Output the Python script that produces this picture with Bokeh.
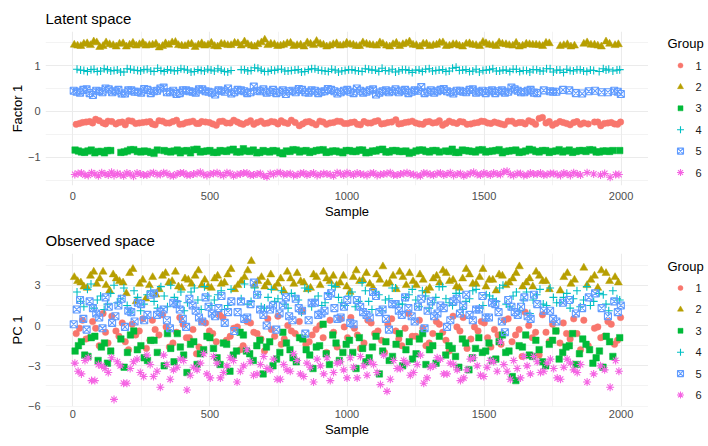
from bokeh.plotting import figure
from bokeh.layouts import column, row
from bokeh.models import (ColumnDataSource, FixedTicker, CustomJSTickFormatter, Range1d)
from bokeh.core.properties import value
from bokeh.embed import file_html
from bokeh.resources import INLINE

FONT = "Liberation Sans"

groups = ["1", "2", "3", "4", "5", "6"]
colors = ["#F8766D", "#B79F00", "#00BA38", "#00BFC4", "#619CFF", "#F564E3"]
markers = ["circle", "triangle", "square", "cross", "square_x", "asterisk"]

x_ticks = [0, 500, 1000, 1500, 2000]
x_minor = [250, 750, 1250, 1750]
latent_ticks = [-1, 0, 1]
latent_minor = [-1.5, -0.5, 0.5, 1.5]
observed_ticks = [-6, -3, 0, 3]
observed_minor = [-4.5, -1.5, 1.5, 4.5]

# ---------------- sample indices per group (two batches) ----------------
sample_g1a = [12, 35, 61, 83, 110, 128, 157, 180, 203, 229,
              255, 281, 300, 327, 352, 378, 402, 425, 451, 470,
              498, 523, 547, 574, 600, 621, 648, 672, 699, 724,
              748, 771, 797, 826, 850, 873, 901, 925, 951, 977,
              1002, 1027, 1049, 1076, 1101, 1126, 1149, 1178, 1200, 1224,
              1251, 1277, 1300, 1326, 1349, 1373, 1401, 1424, 1452, 1478,
              1501, 1525, 1551, 1574, 1602, 1628, 1650, 1676, 1701, 1726,
              1750, 1777, 1801, 1827, 1852, 1903, 1926, 1952, 1976, 1998]
sample_g1b = [24, 48, 72, 96, 119, 142, 168, 191, 216, 242,
              268, 290, 314, 340, 365, 390, 414, 438, 460, 484,
              510, 535, 560, 587, 611, 635, 660, 686, 711, 736,
              760, 784, 811, 838, 862, 887, 913, 938, 964, 990,
              1014, 1038, 1062, 1088, 1113, 1137, 1163, 1189, 1212, 1238,
              1264, 1288, 1313, 1337, 1361, 1387, 1412, 1438, 1465, 1490,
              1513, 1538, 1562, 1588, 1615, 1639, 1663, 1688, 1713, 1738,
              1763, 1789, 1814, 1839, 1864, 1880, 1915, 1939, 1964, 1987]
sample_g2a = [5, 29, 52, 76, 98, 121, 147, 170, 195, 219,
              243, 266, 291, 315, 338, 362, 385, 409, 433, 458,
              481, 505, 528, 553, 577, 602, 626, 651, 675, 700,
              722, 747, 769, 794, 818, 843, 867, 889, 914, 938,
              962, 987, 1011, 1034, 1058, 1083, 1108, 1131, 1156, 1180,
              1204, 1228, 1253, 1278, 1302, 1327, 1350, 1374, 1399, 1422,
              1447, 1471, 1496, 1519, 1544, 1567, 1592, 1617, 1641, 1666,
              1690, 1714, 1738, 1791, 1817, 1864, 1890, 1915, 1945, 1990]
sample_g2b = [17, 40, 64, 87, 110, 134, 158, 183, 207, 231,
              255, 279, 303, 327, 350, 374, 397, 421, 446, 470,
              493, 517, 541, 565, 590, 614, 638, 663, 688, 711,
              735, 758, 782, 806, 831, 855, 878, 902, 926, 950,
              975, 999, 1023, 1046, 1071, 1095, 1120, 1144, 1168, 1192,
              1216, 1241, 1266, 1290, 1315, 1338, 1362, 1387, 1410, 1435,
              1459, 1484, 1507, 1532, 1555, 1580, 1605, 1629, 1654, 1678,
              1702, 1726, 1778, 1804, 1830, 1876, 1903, 1928, 1958, 1978]
sample_g3a = [8, 31, 55, 80, 104, 126, 175, 199, 222, 248,
              272, 296, 333, 357, 381, 404, 429, 453, 477, 500,
              526, 549, 573, 597, 622, 645, 671, 694, 718, 743,
              766, 792, 815, 839, 864, 888, 913, 936, 960, 985,
              1009, 1033, 1057, 1081, 1106, 1130, 1154, 1179, 1203, 1227,
              1252, 1276, 1301, 1325, 1372, 1396, 1421, 1445, 1469, 1494,
              1518, 1543, 1567, 1591, 1616, 1640, 1665, 1689, 1713, 1738,
              1762, 1787, 1811, 1836, 1860, 1885, 1909, 1934, 1958, 1995]
sample_g3b = [20, 43, 67, 92, 115, 138, 187, 210, 235, 260,
              284, 308, 345, 369, 392, 416, 441, 465, 489, 513,
              537, 561, 585, 610, 633, 658, 682, 706, 730, 755,
              779, 803, 827, 851, 876, 900, 924, 948, 972, 997,
              1021, 1045, 1069, 1093, 1118, 1142, 1166, 1191, 1215, 1239,
              1264, 1288, 1313, 1337, 1360, 1384, 1408, 1433, 1457, 1481,
              1506, 1530, 1555, 1579, 1603, 1628, 1652, 1677, 1701, 1725,
              1750, 1774, 1799, 1823, 1848, 1872, 1897, 1921, 1946, 1970]
sample_g4a = [15, 40, 66, 89, 114, 138, 162, 186, 210, 236,
              259, 284, 309, 333, 357, 382, 406, 431, 456, 480,
              504, 529, 553, 577, 614, 638, 663, 687, 712, 736,
              761, 785, 810, 834, 859, 883, 908, 932, 957, 981,
              1006, 1030, 1055, 1079, 1104, 1128, 1153, 1177, 1202, 1226,
              1251, 1275, 1300, 1324, 1349, 1373, 1398, 1422, 1447, 1471,
              1496, 1520, 1545, 1569, 1594, 1618, 1643, 1667, 1692, 1716,
              1741, 1765, 1790, 1814, 1839, 1863, 1888, 1920, 1955, 1985]
sample_g4b = [28, 53, 77, 101, 126, 150, 174, 198, 223, 247,
              271, 296, 321, 345, 370, 394, 418, 443, 468, 492,
              516, 541, 565, 626, 650, 675, 699, 724, 748, 773,
              797, 822, 846, 871, 895, 920, 944, 969, 993, 1018,
              1042, 1067, 1091, 1116, 1140, 1165, 1189, 1214, 1238, 1263,
              1287, 1312, 1336, 1361, 1385, 1410, 1434, 1459, 1483, 1508,
              1532, 1557, 1581, 1606, 1630, 1655, 1679, 1704, 1728, 1753,
              1777, 1802, 1826, 1851, 1875, 1900, 1935, 1945, 1970, 1995]
sample_g5a = [3, 26, 50, 73, 96, 119, 143, 166, 190, 213,
              237, 260, 284, 307, 331, 354, 378, 401, 425, 448,
              472, 495, 519, 542, 566, 589, 613, 636, 660, 683,
              707, 730, 754, 777, 801, 824, 848, 871, 895, 918,
              942, 965, 989, 1012, 1036, 1059, 1083, 1106, 1130, 1153,
              1177, 1200, 1224, 1247, 1271, 1294, 1318, 1341, 1365, 1388,
              1412, 1435, 1459, 1482, 1506, 1529, 1553, 1576, 1600, 1623,
              1647, 1670, 1694, 1741, 1764, 1811, 1858, 1905, 1952, 1999]
sample_g5b = [14, 38, 61, 85, 108, 131, 155, 178, 202, 225,
              249, 272, 296, 319, 343, 366, 390, 413, 437, 460,
              484, 507, 531, 554, 578, 601, 625, 648, 672, 695,
              719, 742, 766, 789, 813, 836, 860, 883, 907, 930,
              954, 977, 1001, 1024, 1048, 1071, 1095, 1118, 1142, 1165,
              1189, 1212, 1236, 1259, 1283, 1306, 1330, 1353, 1377, 1400,
              1424, 1447, 1471, 1494, 1518, 1541, 1565, 1588, 1612, 1635,
              1659, 1682, 1718, 1752, 1788, 1835, 1882, 1929, 1975, 1988]
sample_g6a = [19, 44, 68, 93, 117, 141, 150, 173, 197, 221,
              246, 270, 294, 319, 343, 367, 392, 416, 440, 465,
              489, 513, 538, 562, 586, 611, 635, 659, 684, 708,
              732, 757, 781, 805, 830, 854, 878, 903, 927, 951,
              976, 1000, 1024, 1049, 1073, 1097, 1122, 1146, 1170, 1195,
              1219, 1243, 1268, 1292, 1316, 1341, 1365, 1389, 1414, 1438,
              1462, 1487, 1511, 1535, 1560, 1584, 1608, 1633, 1657, 1681,
              1706, 1730, 1754, 1779, 1803, 1827, 1852, 1900, 1960, 1992]
sample_g6b = [7, 31, 56, 80, 105, 129, 162, 185, 209, 234,
              258, 282, 307, 331, 355, 380, 404, 428, 453, 477,
              501, 526, 550, 574, 599, 623, 647, 672, 696, 720,
              745, 769, 793, 818, 842, 866, 891, 915, 939, 964,
              988, 1012, 1037, 1061, 1085, 1110, 1134, 1158, 1183, 1207,
              1231, 1256, 1280, 1304, 1329, 1353, 1377, 1402, 1426, 1450,
              1475, 1499, 1523, 1548, 1572, 1596, 1621, 1645, 1669, 1694,
              1718, 1742, 1767, 1791, 1815, 1840, 1876, 1925, 1940, 1980]

# ---------------- latent space (Factor 1) ----------------
latent_g1a = [-0.28, -0.24, -0.22, -0.17, -0.25, -0.21, -0.27, -0.23, -0.20, -0.26,
              -0.24, -0.22, -0.29, -0.21, -0.25, -0.19, -0.27, -0.23, -0.26, -0.22,
              -0.24, -0.30, -0.21, -0.25, -0.23, -0.28, -0.20, -0.24, -0.26, -0.22,
              -0.27, -0.24, -0.19, -0.31, -0.23, -0.25, -0.21, -0.28, -0.24, -0.22,
              -0.26, -0.23, -0.29, -0.25, -0.22, -0.27, -0.24, -0.18, -0.26, -0.23,
              -0.25, -0.28, -0.22, -0.24, -0.30, -0.21, -0.26, -0.23, -0.27, -0.24,
              -0.22, -0.26, -0.25, -0.29, -0.21, -0.24, -0.27, -0.23, -0.15, -0.25,
              -0.30, -0.22, -0.26, -0.24, -0.28, -0.23, -0.31, -0.25, -0.27, -0.23]
latent_g1b = [-0.26, -0.23, -0.25, -0.20, -0.27, -0.22, -0.24, -0.29, -0.21, -0.25,
              -0.23, -0.27, -0.20, -0.25, -0.22, -0.28, -0.24, -0.21, -0.26, -0.23,
              -0.27, -0.22, -0.25, -0.19, -0.26, -0.24, -0.28, -0.21, -0.25, -0.23,
              -0.20, -0.26, -0.24, -0.27, -0.22, -0.29, -0.23, -0.25, -0.21, -0.26,
              -0.24, -0.28, -0.22, -0.25, -0.20, -0.26, -0.23, -0.27, -0.24, -0.21,
              -0.27, -0.23, -0.25, -0.20, -0.26, -0.24, -0.22, -0.28, -0.25, -0.21,
              -0.25, -0.23, -0.27, -0.21, -0.26, -0.24, -0.20, -0.28, -0.13, -0.22,
              -0.26, -0.24, -0.29, -0.22, -0.25, -0.27, -0.23, -0.26, -0.24, -0.28]
latent_g2a = [1.45, 1.42, 1.48, 1.52, 1.40, 1.50, 1.44, 1.47, 1.41, 1.49,
              1.46, 1.43, 1.45, 1.39, 1.48, 1.50, 1.44, 1.42, 1.47, 1.45,
              1.43, 1.49, 1.41, 1.46, 1.44, 1.48, 1.52, 1.43, 1.46, 1.56,
              1.47, 1.42, 1.45, 1.49, 1.44, 1.41, 1.47, 1.53, 1.45, 1.43,
              1.48, 1.44, 1.46, 1.42, 1.50, 1.45, 1.43, 1.47, 1.41, 1.49,
              1.46, 1.52, 1.44, 1.47, 1.42, 1.45, 1.50, 1.43, 1.46, 1.41,
              1.48, 1.44, 1.51, 1.45, 1.42, 1.47, 1.44, 1.49, 1.43, 1.46,
              1.45, 1.42, 1.48, 1.44, 1.41, 1.47, 1.45, 1.43, 1.52, 1.46]
latent_g2b = [1.43, 1.47, 1.44, 1.50, 1.42, 1.46, 1.41, 1.48, 1.45, 1.43,
              1.49, 1.44, 1.47, 1.42, 1.45, 1.51, 1.43, 1.46, 1.40, 1.48,
              1.45, 1.42, 1.47, 1.44, 1.49, 1.43, 1.46, 1.41, 1.50, 1.44,
              1.46, 1.43, 1.48, 1.42, 1.45, 1.50, 1.44, 1.47, 1.41, 1.46,
              1.43, 1.49, 1.45, 1.42, 1.47, 1.44, 1.50, 1.43, 1.46, 1.42,
              1.48, 1.45, 1.41, 1.47, 1.44, 1.49, 1.42, 1.46, 1.43, 1.47,
              1.45, 1.42, 1.48, 1.44, 1.50, 1.46, 1.43, 1.41, 1.47, 1.45,
              1.44, 1.49, 1.42, 1.46, 1.43, 1.50, 1.45, 1.41, 1.47, 1.44]
latent_g3a = [-0.84, -0.88, -0.86, -0.90, -0.87, -0.85, -0.89, -0.86, -0.83, -0.88,
              -0.87, -0.91, -0.85, -0.88, -0.84, -0.86, -0.90, -0.82, -0.87, -0.85,
              -0.89, -0.86, -0.84, -0.88, -0.81, -0.87, -0.90, -0.85, -0.88, -0.86,
              -0.92, -0.87, -0.84, -0.86, -0.89, -0.85, -0.83, -0.88, -0.86, -0.90,
              -0.85, -0.87, -0.84, -0.89, -0.86, -0.82, -0.88, -0.85, -0.87, -0.91,
              -0.86, -0.84, -0.88, -0.85, -0.87, -0.89, -0.84, -0.86, -0.88, -0.83,
              -0.87, -0.85, -0.90, -0.86, -0.84, -0.88, -0.82, -0.87, -0.85, -0.89,
              -0.86, -0.88, -0.84, -0.87, -0.85, -0.83, -0.88, -0.86, -0.87, -0.85]
latent_g3b = [-0.86, -0.89, -0.84, -0.87, -0.90, -0.85, -0.88, -0.83, -0.87, -0.86,
              -0.89, -0.84, -0.87, -0.86, -0.90, -0.85, -0.83, -0.88, -0.86, -0.89,
              -0.85, -0.87, -0.82, -0.88, -0.86, -0.84, -0.89, -0.87, -0.85, -0.90,
              -0.86, -0.83, -0.88, -0.85, -0.87, -0.84, -0.89, -0.86, -0.88, -0.85,
              -0.87, -0.84, -0.90, -0.86, -0.83, -0.88, -0.85, -0.87, -0.86, -0.89,
              -0.84, -0.87, -0.85, -0.88, -0.86, -0.82, -0.89, -0.85, -0.87, -0.84,
              -0.88, -0.86, -0.83, -0.87, -0.85, -0.89, -0.86, -0.84, -0.88, -0.85,
              -0.87, -0.83, -0.86, -0.89, -0.85, -0.87, -0.84, -0.88, -0.86, -0.85]
latent_g4a = [0.92, 0.89, 0.91, 0.87, 0.93, 0.88, 0.90, 0.86, 0.92, 0.89,
              0.91, 0.88, 0.94, 0.87, 0.90, 0.89, 0.92, 0.86, 0.91, 0.88,
              0.90, 0.93, 0.87, 0.89, 0.91, 0.88, 0.95, 0.90, 0.87, 0.89,
              0.92, 0.88, 0.90, 0.86, 0.91, 0.93, 0.89, 0.87, 0.90, 0.88,
              0.91, 0.89, 0.87, 0.92, 0.90, 0.94, 0.88, 0.86, 0.91, 0.89,
              0.90, 0.87, 0.93, 0.89, 0.91, 0.88, 0.96, 0.90, 0.87, 0.92,
              0.89, 0.91, 0.88, 0.90, 0.87, 0.92, 0.89, 0.86, 0.91, 0.88,
              0.93, 0.90, 0.85, 0.89, 0.91, 0.88, 0.90, 0.87, 0.92, 0.90]
latent_g4b = [0.90, 0.87, 0.92, 0.88, 0.91, 0.89, 0.86, 0.93, 0.90, 0.88,
              0.92, 0.87, 0.89, 0.91, 0.88, 0.93, 0.90, 0.87, 0.89, 0.92,
              0.88, 0.90, 0.86, 0.91, 0.89, 0.94, 0.87, 0.90, 0.92, 0.88,
              0.89, 0.91, 0.87, 0.93, 0.90, 0.88, 0.92, 0.86, 0.89, 0.91,
              0.88, 0.93, 0.90, 0.87, 0.89, 0.92, 0.88, 0.91, 0.85, 0.90,
              0.92, 0.88, 0.90, 0.87, 0.94, 0.89, 0.91, 0.88, 0.86, 0.90,
              0.93, 0.88, 0.90, 0.92, 0.87, 0.89, 0.91, 0.88, 0.93, 0.86,
              0.90, 0.92, 0.88, 0.91, 0.87, 0.89, 0.93, 0.90, 0.88, 0.91]
latent_g5a = [0.45, 0.41, 0.48, 0.36, 0.44, 0.50, 0.42, 0.47, 0.39, 0.46,
              0.43, 0.49, 0.40, 0.45, 0.52, 0.42, 0.38, 0.46, 0.44, 0.41,
              0.48, 0.43, 0.37, 0.45, 0.50, 0.42, 0.46, 0.40, 0.54, 0.44,
              0.41, 0.47, 0.43, 0.38, 0.45, 0.49, 0.42, 0.46, 0.40, 0.44,
              0.47, 0.39, 0.45, 0.43, 0.50, 0.41, 0.46, 0.37, 0.44, 0.42,
              0.48, 0.45, 0.40, 0.46, 0.53, 0.43, 0.41, 0.47, 0.44, 0.39,
              0.45, 0.42, 0.48, 0.43, 0.40, 0.46, 0.44, 0.41, 0.52, 0.45,
              0.42, 0.47, 0.40, 0.44, 0.43, 0.46, 0.39, 0.45, 0.42, 0.38]
latent_g5b = [0.43, 0.47, 0.40, 0.45, 0.42, 0.48, 0.44, 0.39, 0.46, 0.43,
              0.41, 0.47, 0.44, 0.50, 0.42, 0.45, 0.40, 0.46, 0.43, 0.48,
              0.44, 0.41, 0.46, 0.43, 0.39, 0.47, 0.44, 0.42, 0.45, 0.48,
              0.43, 0.40, 0.46, 0.44, 0.42, 0.47, 0.41, 0.45, 0.43, 0.49,
              0.44, 0.42, 0.47, 0.40, 0.45, 0.43, 0.48, 0.41, 0.46, 0.44,
              0.42, 0.47, 0.43, 0.45, 0.40, 0.46, 0.44, 0.49, 0.42, 0.45,
              0.43, 0.47, 0.41, 0.45, 0.44, 0.40, 0.46, 0.43, 0.48, 0.42,
              0.45, 0.41, 0.46, 0.43, 0.47, 0.40, 0.44, 0.42, 0.45, 0.43]
latent_g6a = [-1.35, -1.38, -1.33, -1.40, -1.36, -1.32, -1.39, -1.37, -1.34, -1.41,
              -1.36, -1.38, -1.33, -1.37, -1.35, -1.40, -1.34, -1.38, -1.36, -1.32,
              -1.39, -1.35, -1.37, -1.33, -1.40, -1.36, -1.34, -1.38, -1.35, -1.42,
              -1.37, -1.33, -1.36, -1.39, -1.35, -1.38, -1.34, -1.37, -1.36, -1.40,
              -1.35, -1.33, -1.38, -1.36, -1.39, -1.34, -1.37, -1.35, -1.38, -1.36,
              -1.33, -1.37, -1.40, -1.35, -1.38, -1.34, -1.36, -1.39, -1.35, -1.37,
              -1.32, -1.38, -1.36, -1.34, -1.37, -1.30, -1.39, -1.35, -1.38, -1.36,
              -1.34, -1.37, -1.35, -1.39, -1.36, -1.33, -1.38, -1.36, -1.43, -1.37]
latent_g6b = [-1.37, -1.34, -1.39, -1.36, -1.33, -1.38, -1.35, -1.40, -1.36, -1.34,
              -1.38, -1.35, -1.37, -1.33, -1.39, -1.36, -1.34, -1.38, -1.35, -1.37,
              -1.36, -1.33, -1.39, -1.35, -1.37, -1.34, -1.38, -1.36, -1.40, -1.35,
              -1.33, -1.37, -1.35, -1.38, -1.34, -1.36, -1.39, -1.35, -1.37, -1.33,
              -1.38, -1.36, -1.34, -1.37, -1.35, -1.39, -1.36, -1.33, -1.38, -1.35,
              -1.36, -1.39, -1.34, -1.37, -1.35, -1.38, -1.33, -1.36, -1.40, -1.35,
              -1.37, -1.34, -1.38, -1.36, -1.31, -1.37, -1.35, -1.39, -1.34, -1.36,
              -1.38, -1.35, -1.37, -1.34, -1.39, -1.36, -1.33, -1.38, -1.35, -1.37]

# ---------------- observed space (PC 1) ----------------
observed_g1a = [-0.6, 0.4, -0.9, -0.2, 0.9, -1.3, -0.4, 0.2, -1.8, -0.7,
                0.5, -1.1, -0.3, 0.8, -1.6, -0.5, 0.1, -0.9, -2.1, 0.3,
                -0.4, -1.2, 0.6, -0.8, -0.1, -1.5, 0.2, -0.6, -1.9, -0.3,
                0.7, -1.0, -0.4, 0.3, -1.4, -0.7, 0.0, -2.0, -0.5, 0.5,
                -0.9, -0.2, -1.7, 0.4, -0.6, -1.1, 0.1, -0.4, -1.5, 0.9,
                -0.8, -0.2, -1.3, 0.3, -0.5, -1.9, -0.1, 0.6, -1.0, -0.4,
                0.2, -1.6, -0.7, 0.4, -1.2, -0.3, 1.0, -0.9, -2.2, -0.5,
                0.1, -1.3, -0.6, 0.5, -1.8, -0.2, -0.9, 0.3, -1.4, 0.6]
observed_g1b = [-0.2, -1.0, 0.3, -1.5, -0.5, 0.7, -0.8, -1.2, 0.1, -0.4,
                -1.7, 0.4, -0.7, -0.1, -1.3, 0.6, -0.9, -0.3, -1.6, 0.2,
                -0.6, 0.8, -1.1, -0.2, -1.8, 0.3, -0.5, -1.0, 0.5, -0.8,
                -1.4, 0.0, -0.6, 1.1, -1.2, -0.3, -0.9, 0.4, -1.6, -0.1,
                0.6, -0.7, -1.3, 0.2, -0.4, -2.0, 0.5, -1.0, -0.2, -0.8,
                0.4, -1.5, -0.6, 0.1, -1.1, 0.7, -0.4, -1.7, -0.1, 0.3,
                -0.9, -0.3, -1.4, 0.5, -0.7, -2.3, 0.0, -0.5, 0.8, -1.2,
                -0.4, 0.2, -1.0, -0.6, 0.4, -1.5, -0.1, -0.8, 0.1, -1.1]
observed_g2a = [3.6, 3.2, 2.8, 4.0, 3.5, 3.0, 3.8, 3.3, 2.4, 4.2,
                3.1, 2.0, 3.6, 2.7, 3.9, 3.3, 2.9, 3.5, 3.1, 4.1,
                3.4, 2.8, 3.7, 3.2, 4.2, 3.0, 3.6, 4.8, 3.3, 2.9,
                3.8, 3.1, 2.6, 3.5, 3.9, 3.2, 2.8, 3.6, 4.0, 3.3,
                3.0, 3.7, 2.5, 4.1, 3.4, 3.1, 3.8, 4.4, 3.2, 2.7,
                3.6, 3.9, 3.0, 3.4, 2.8, 3.7, 4.1, 3.3, 2.9, 3.5,
                3.8, 3.1, 4.2, 3.4, 2.6, 3.7, 3.2, 3.9, 2.9, 3.5,
                4.0, 3.3, 2.7, 3.6, 3.1, 4.3, 3.4, 2.8, 3.9, 3.2]
observed_g2b = [3.3, 2.9, 3.7, 3.1, 4.0, 2.6, 3.5, 3.2, 3.9, 1.8,
                3.4, 3.0, 2.3, 3.7, 3.2, 4.0, 2.8, 3.4, 3.7, 3.0,
                2.9, 3.5, 3.1, 3.8, 2.7, 3.3, 4.1, 3.0, 3.6, 3.2,
                2.8, 3.5, 4.0, 3.1, 3.3, 2.7, 3.8, 3.0, 3.5, 3.7,
                3.2, 2.9, 3.6, 3.3, 3.9, 2.8, 3.4, 3.1, 3.7, 4.0,
                3.0, 3.3, 3.8, 2.6, 3.5, 3.2, 3.9, 3.4, 2.8, 4.2,
                3.1, 3.6, 2.9, 3.4, 3.8, 3.0, 3.5, 4.4, 3.2, 2.9,
                3.7, 3.3, 2.6, 3.9, 3.4, 3.0, 3.7, 4.1, 3.3, 3.6]
observed_g3a = [-1.9, -1.2, -2.3, -0.8, -1.6, -2.8, -1.0, -2.0, -0.4, -1.5,
                -2.6, -1.1, -3.0, -1.7, -0.6, -2.2, -1.4, -2.9, -1.8, -0.9,
                -2.4, -1.3, -3.4, -1.9, -0.7, -2.1, -1.5, -3.6, -1.2, -2.5,
                -0.5, -1.8, -2.7, -1.0, -2.2, -1.6, 0.1, -2.9, -1.3, -2.0,
                -1.1, -3.2, -1.7, -2.4, -0.8, -1.9, -2.6, -1.4, -3.0, -1.2,
                -2.1, -0.6, -1.8, -2.8, -1.5, -2.3, -1.0, -3.3, -1.7, -2.0,
                -1.3, -2.5, -0.7, -1.9, -4.1, -1.6, -2.2, -1.1, -2.7, -1.4,
                -0.4, -2.0, -1.5, -2.9, -1.0, -1.8, -2.4, -3.1, -1.2, -0.9]
observed_g3b = [-1.5, -2.2, -0.9, -2.6, -1.3, -1.9, -3.1, -0.7, -1.8, -2.4,
                -1.1, -2.0, -0.6, -2.7, -1.6, -3.5, -1.2, -2.1, -0.8, -1.7,
                -2.9, -1.4, -2.2, -0.5, -1.9, -2.6, -1.1, -1.6, -3.0, -2.0,
                -1.3, -2.4, -0.9, -1.8, -3.2, -1.5, -2.1, -0.7, -2.6, -1.4,
                -2.0, -0.9, -2.7, -1.6, -3.6, -1.2, -2.3, -0.6, -1.8, -2.5,
                -1.0, -2.9, -1.5, -0.8, -2.2, -1.7, -3.1, -1.3, -2.4, -0.9,
                -1.9, -2.6, -1.2, -2.0, -3.8, -1.5, -0.7, -2.3, -1.8, -3.0,
                -1.1, -2.5, -1.6, -0.6, -2.1, -1.4, -2.8, -1.9, -0.8, -2.3]
observed_g4a = [2.5, 1.4, 3.1, 1.9, 1.2, 2.4, 1.7, 2.8, 1.0, 2.1,
                1.6, 2.6, 1.3, 2.2, 3.0, 1.8, 1.1, 2.5, 1.9, 2.9,
                1.5, 2.3, 1.2, 2.7, 2.0, 1.6, 2.8, 1.4, 2.1, 1.8,
                2.6, 1.3, 2.2, 1.0, 2.7, 1.9, 1.5, 2.4, 2.9, 1.7,
                2.2, 1.4, 3.2, 1.8, 2.5, 1.1, 2.0, 2.8, 1.6, 2.3,
                1.9, 2.6, 1.3, 2.1, 2.9, 1.7, 2.4, 1.2, 2.0, 2.7,
                1.5, 2.2, 1.8, 3.0, 1.4, 2.5, 1.9, 0.9, 2.3, 1.6,
                2.8, 1.7, 2.1, 1.3, 2.6, 1.9, 1.5, 2.4, 1.1, 2.0]
observed_g4b = [1.8, 2.7, 1.3, 2.2, 1.6, 3.0, 2.0, 1.5, 2.6, 1.1,
                2.3, 1.8, 2.9, 1.4, 2.1, 2.5, 1.7, 2.8, 1.2, 2.2,
                1.9, 2.6, 1.5, 3.1, 1.8, 2.3, 1.3, 2.7, 2.0, 1.6,
                2.4, 1.9, 2.8, 1.4, 2.2, 1.7, 3.0, 2.1, 1.5, 2.5,
                1.8, 2.6, 1.2, 2.3, 1.9, 2.8, 1.6, 2.1, 2.7, 1.4,
                2.2, 1.7, 2.9, 2.0, 1.5, 2.4, 1.8, 2.6, 1.3, 2.3,
                2.0, 2.8, 1.6, 2.2, 1.1, 2.5, 1.9, 2.7, 1.5, 2.1,
                1.7, 2.4, 2.0, 1.4, 2.9, 1.8, 2.3, 1.6, 2.6, 1.9]
observed_g5a = [0.1, 1.9, -0.3, 1.3, 0.6, 2.1, 0.2, 1.5, -0.1, 1.0,
                1.7, 0.4, 2.3, 0.8, 1.2, -0.2, 1.6, 0.5, 2.0, 1.1,
                0.3, 1.4, 0.7, 2.2, 1.0, -0.4, 1.8, 0.6, 3.2, 1.2,
                0.0, 1.5, 0.9, 2.1, 0.4, 1.3, -0.6, 1.7, 0.8, 1.1,
                2.4, 0.5, 1.4, 0.2, 1.9, 1.0, 0.6, 2.2, 1.2, -0.3,
                1.6, 0.8, 1.3, 0.3, 2.0, 1.1, 0.7, 1.5, -0.1, 1.8,
                0.9, 2.3, 0.4, 1.2, 0.6, 1.7, 1.0, -0.5, 1.4, 0.8,
                2.1, 0.5, 1.6, 1.1, 0.3, 1.9, 1.3, 2.4, 0.7, 1.5]
observed_g5b = [1.2, 0.5, 1.8, 0.9, -0.2, 1.4, 0.7, 2.0, 1.1, 0.3,
                1.6, 0.8, 2.4, 1.0, 0.4, 1.7, 1.2, -0.1, 1.5, 0.6,
                2.1, 0.9, 1.3, 0.2, 1.8, 1.0, 0.5, 1.6, 2.3, 0.8,
                1.2, -0.3, 1.5, 0.7, 2.0, 1.1, 0.4, 1.7, 0.9, 2.2,
                1.3, 0.6, 1.9, 0.1, 1.4, 0.8, 2.5, 1.0, 0.5, 1.6,
                1.1, 2.1, 0.7, 1.4, -0.2, 1.8, 0.9, 1.3, 0.4, 2.0,
                1.5, 0.8, 1.2, 2.2, 0.6, 1.6, 0.3, 1.9, 1.0, 1.4,
                0.7, 2.3, 1.1, 0.5, 1.7, 0.9, 2.1, 1.3, 1.8, 1.0]
observed_g6a = [-3.4, -2.6, -4.1, -2.9, -3.2, -2.4, -5.5, -3.0, -4.3, -2.7,
                -3.5, -2.2, -3.8, -4.6, -2.9, -3.3, -2.5, -4.8, -3.1, -2.8,
                -3.6, -2.3, -3.9, -3.0, -2.6, -3.4, -1.8, -3.7, -2.9, -3.2,
                -2.5, -4.0, -3.3, -2.1, -3.6, -2.8, -4.2, -3.0, -2.4, -3.5,
                -2.7, -3.9, -3.1, -2.3, -3.7, -2.9, -4.4, -4.9, -2.6, -3.2,
                -2.8, -3.5, -2.2, -3.9, -3.0, -2.5, -3.6, -2.9, -4.1, -3.3,
                -2.4, -3.7, -3.1, -2.7, -1.2, -3.4, -2.6, -3.9, -3.0, -2.3,
                -3.5, -2.8, -3.2, -4.0, -2.5, -3.3, -2.9, -3.6, -4.6, -3.4]
observed_g6b = [-2.8, -3.6, -2.4, -4.1, -3.0, -3.5, -2.7, -4.3, -3.2, -2.5,
                -3.8, -2.9, -3.4, -2.2, -4.0, -3.1, -2.6, -3.7, -3.3, -2.1,
                -3.9, -2.8, -3.5, -2.4, -4.2, -3.0, -2.7, -3.6, -2.3, -3.3,
                -4.0, -2.9, -3.4, -2.6, -3.8, -3.1, -2.5, -3.6, -4.1, -2.8,
                -3.3, -2.4, -3.9, -3.0, -2.7, -3.5, -2.2, -4.0, -3.2, -2.6,
                -3.7, -2.9, -4.3, -3.1, -2.4, -3.6, -2.8, -3.3, -3.9, -2.5,
                -3.0, -3.8, -2.6, -3.4, -2.9, -4.0, -3.2, -2.3, -3.6, -2.7,
                -3.4, -2.5, -3.9, -3.1, -2.8, -3.5, -4.2, -3.0, -3.3, -2.6]

samples = [sample_g1a + sample_g1b, sample_g2a + sample_g2b, sample_g3a + sample_g3b,
           sample_g4a + sample_g4b, sample_g5a + sample_g5b, sample_g6a + sample_g6b]
latent = [latent_g1a + latent_g1b, latent_g2a + latent_g2b, latent_g3a + latent_g3b,
          latent_g4a + latent_g4b, latent_g5a + latent_g5b, latent_g6a + latent_g6b]
observed = [observed_g1a + observed_g1b, observed_g2a + observed_g2b,
            observed_g3a + observed_g3b, observed_g4a + observed_g4b,
            observed_g5a + observed_g5b, observed_g6a + observed_g6b]

sizes = {"circle": 6.5, "triangle": 8, "square": 6.5, "cross": 8, "square_x": 7, "asterisk": 8}
legend_sizes = {"circle": 5, "triangle": 6, "square": 5, "cross": 7, "square_x": 6, "asterisk": 7}

minus_fmt = CustomJSTickFormatter(code="return (tick < 0 ? '\u2212' : '') + Math.abs(tick);")


def draw_marks(p, xs, ys, m, color, size):
    src = ColumnDataSource(dict(x=xs, y=ys))
    if m in ("cross", "asterisk", "square_x"):
        p.scatter("x", "y", source=src, marker=m, size=size,
                  line_color=color, fill_color=None, line_width=1.1)
    else:
        p.scatter("x", "y", source=src, marker=m, size=size,
                  line_color=color, fill_color=color, line_width=0.5)


def make_panel(title, ylab, ydata, yr, ymaj, ymin, height, mb_top, mb_bottom, xstand):
    p = figure(width=648, height=height, output_backend="svg", toolbar_location=None,
               x_range=Range1d(-100, 2100), y_range=Range1d(*yr),
               min_border_left=45, min_border_right=0,
               min_border_top=mb_top, min_border_bottom=mb_bottom)
    p.outline_line_color = None
    p.background_fill_color = "white"
    p.border_fill_color = "white"

    p.title.text = title
    p.title.text_font = FONT
    p.title.text_font_size = "15px"
    p.title.text_font_style = "normal"
    p.title.text_color = "black"
    p.title.align = "left"
    p.title.offset = 0
    p.title.standoff = 10

    p.xaxis.ticker = FixedTicker(ticks=x_ticks, minor_ticks=x_minor)
    p.yaxis.ticker = FixedTicker(ticks=ymaj, minor_ticks=ymin)
    p.yaxis.formatter = minus_fmt
    p.xaxis.axis_label = "Sample"
    p.yaxis.axis_label = ylab
    for ax in (p.xaxis, p.yaxis):
        ax.axis_line_color = None
        ax.major_tick_line_color = None
        ax.minor_tick_line_color = None
        ax.major_tick_out = 0
        ax.major_tick_in = 0
        ax.minor_tick_out = 0
        ax.minor_tick_in = 0
        ax.major_label_text_font = FONT
        ax.major_label_text_font_size = "11px"
        ax.major_label_text_color = "#4D4D4D"
        ax.axis_label_text_font = FONT
        ax.axis_label_text_font_size = "13px"
        ax.axis_label_text_font_style = "normal"
        ax.axis_label_text_color = "black"
    p.xaxis.major_label_standoff = xstand
    p.xaxis.axis_label_standoff = 1
    p.yaxis.major_label_standoff = 5
    p.yaxis.axis_label_standoff = 0

    for g in (p.xgrid, p.ygrid):
        g.grid_line_color = "#EBEBEB"
        g.grid_line_width = 1.1
        g.minor_grid_line_color = "#EBEBEB"
        g.minor_grid_line_width = 0.6

    for i in range(len(groups)):
        n = min(len(samples[i]), len(ydata[i]))
        draw_marks(p, samples[i][:n], ydata[i][:n], markers[i], colors[i], sizes[markers[i]])
    return p


def make_legend(height, mb_top, mb_bottom, center_y):
    # y range in pixels from the figure top, matched to the frame of the panel beside it
    lf = figure(width=60, height=height, output_backend="svg", toolbar_location=None,
                x_range=Range1d(0, 60), y_range=Range1d(height - mb_bottom, mb_top),
                min_border_left=0, min_border_right=0,
                min_border_top=mb_top, min_border_bottom=mb_bottom,
                x_axis_type=None, y_axis_type=None)
    lf.outline_line_color = None
    lf.background_fill_color = "white"
    lf.border_fill_color = "white"
    lf.xgrid.visible = False
    lf.ygrid.visible = False
    lf.text(x=[19], y=[center_y - 65], text=["Group"], text_font=value(FONT),
            text_font_size=value("13px"), text_baseline="middle", text_align="left",
            text_color="black")
    for i, grp in enumerate(groups):
        yy = center_y - 43 + 21.4 * i
        draw_marks(lf, [32], [yy], markers[i], colors[i], legend_sizes[markers[i]])
        lf.text(x=[47], y=[yy], text=[grp], text_font=value(FONT),
                text_font_size=value("11px"), text_baseline="middle", text_align="left",
                text_color="#1A1A1A")
    return lf


H1, H2 = 222, 224
p1 = make_panel("Latent space", "Factor 1", latent, (-1.61, 1.74),
                latent_ticks, latent_minor, H1, 31, 37, 6)
p2 = make_panel("Observed space", "PC 1", observed, (-6.03, 5.37),
                observed_ticks, observed_minor, H2, 31, 40, 3)
l1 = make_legend(H1, 31, 37, 108)
l2 = make_legend(H2, 31, 40, 330.5 - H1)

layout = column(row(p1, l1, spacing=0), row(p2, l2, spacing=0), spacing=0)
open("out.html", "w").write(file_html(layout, INLINE))
